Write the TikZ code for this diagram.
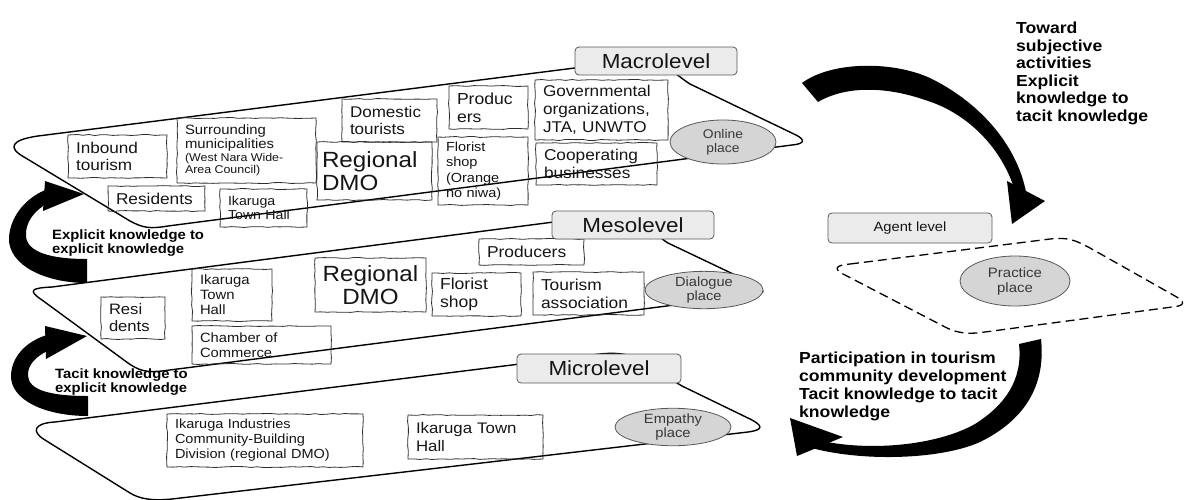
\documentclass[tikz,border=0pt]{standalone}
\usepackage{fontspec}
\setmainfont{Liberation Sans}[FakeStretch=1.1]
\usetikzlibrary{shapes.geometric,decorations.pathmorphing}
\definecolor{boxline}{HTML}{2E2E2E}
\definecolor{txt}{HTML}{151515}
\definecolor{lvlfill}{HTML}{EBEBEB}
\definecolor{elfill}{HTML}{D5D5D5}
\newcommand{\fsz}[2]{\fontsize{#1}{#2}\selectfont}
\tikzset{
  plane/.style={draw=black, line width=1.4pt, line join=round},
  skbox/.style={draw=boxline, line width=0.8pt, decorate,
    decoration={random steps,segment length=6pt,amplitude=0.5pt},
    inner xsep=8pt, inner ysep=0pt, align=left, text=txt},
  lvl/.style={draw=boxline!80, fill=lvlfill, rounded corners=4pt, line width=0.8pt,
    text=txt, inner sep=0pt, font=\fsz{20.4}{22}},
  place/.style={ellipse, draw=boxline!80, fill=elfill, line width=0.8pt, inner sep=0pt,
    align=center, text=txt!85},
  arrowfill/.style={fill=black},
  lbl/.style={anchor=north west, inner sep=0pt, align=left, text=black}
}
\begin{document}
\begin{tikzpicture}[x=1pt,y=-1pt]
\pgfmathsetseed{7}
\useasboundingbox (0,0) rectangle (1184,499);

% ---------- planes ----------
\draw[plane] (630,61) .. controls (665,57) and (668,70) .. (690,84) -- (796,135)
  .. controls (806,140) and (804,144) .. (792,145) -- (168,226)
  .. controls (150,229) and (143,228) .. (130,221) -- (24,157)
  .. controls (8,148) and (10,140) .. (38,136) -- cycle;
\draw[plane] (600,216) .. controls (640,211) and (650,232) .. (668,243) -- (752,283)
  .. controls (767,290) and (766,294) .. (752,295) -- (162,371)
  .. controls (146,373) and (138,370) .. (128,363) -- (42,300)
  .. controls (27,290) and (32,288) .. (52,287) -- cycle;
\draw[plane] (600,354) .. controls (645,349) and (660,374) .. (682,386) -- (750,419)
  .. controls (764,426) and (763,430) .. (748,432) -- (172,499)
  .. controls (152,501) and (140,499) .. (130,493) -- (45,440)
  .. controls (30,431) and (35,423) .. (55,422) -- cycle;
\draw[plane, line width=1.3pt, dash pattern=on 9pt off 5pt] (850,264) -- (1050,239)
  .. controls (1068,237) and (1075,240) .. (1090,248) -- (1175,296)
  .. controls (1186,302) and (1185,306) .. (1172,307) -- (985,332)
  .. controls (965,335) and (955,332) .. (945,327) -- (845,275)
  .. controls (832,269) and (836,265) .. (850,264) -- cycle;

% ---------- macrolevel boxes ----------
\node[skbox, minimum width=99pt, minimum height=43pt, text width=83pt, font=\fsz{15.6}{17}] (inb) at (117.5,156.5) {Inbound\\tourism};
\node[skbox, minimum width=139pt, minimum height=65pt, text width=123pt] (sur) at (246.5,150.5)
  {{\fsz{13.5}{14.5}Surrounding\\municipalities\par}{\fsz{11.3}{12.5}(West Nara Wide-\\Area Council)\par}};
\node[skbox, inner xsep=5pt, minimum width=115pt, minimum height=58pt, text width=105pt, font=\fsz{22}{23}] (dmoA) at (374.5,171) {Regional\\DMO};
\node[skbox, minimum width=97pt, minimum height=25pt, text width=81pt, font=\fsz{15.7}{17}] (resA) at (156.5,198.5) {Residents};
\node[skbox, minimum width=87pt, minimum height=38pt, text width=71pt, font=\fsz{12.9}{14}] (ithA) at (263.5,208) {Ikaruga\\Town Hall};
\node[skbox, minimum width=95pt, minimum height=43pt, text width=79pt, font=\fsz{15.5}{17}] (dom) at (389.5,120.5) {Domestic\\tourists};
\node[skbox, minimum width=79pt, minimum height=43pt, text width=63pt, font=\fsz{16}{18}] (prodA) at (488.5,107.5) {Produc\\ers};
\node[skbox, minimum width=90pt, minimum height=68pt, text width=74pt, font=\fsz{13.2}{15.3}] (floA) at (483,171) {Florist\\shop\\(Orange\\no niwa)};
\node[skbox, minimum width=133pt, minimum height=60pt, text width=117pt, font=\fsz{15.6}{18}] (gov) at (601.5,110) {Governmental\\organizations,\\JTA, UNWTO};
\node[skbox, minimum width=121pt, minimum height=42pt, text width=105pt, font=\fsz{15.7}{18}] (coop) at (596.5,164) {Cooperating\\businesses};
\node[place, minimum width=106pt, minimum height=44pt, font=\fsz{12.6}{14}] (online) at (723,142) {Online\\place};
\node[lvl, minimum width=162pt, minimum height=28pt] (macro) at (656,61) {Macrolevel};

% ---------- mesolevel boxes ----------
\node[skbox, minimum width=64pt, minimum height=42pt, text width=48pt, font=\fsz{15.1}{17}] (resB) at (133,318) {Resi\\dents};
\node[skbox, minimum width=80pt, minimum height=52pt, text width=64pt, font=\fsz{13.5}{15}] (ithB) at (232,295) {Ikaruga\\Town\\Hall};
\node[skbox, minimum width=139pt, minimum height=38pt, text width=123pt, font=\fsz{13.4}{14.5}] (coc) at (261.5,345) {Chamber of\\Commerce};
\node[skbox, inner xsep=5pt, align=center, minimum width=111pt, minimum height=54pt, text width=101pt, font=\fsz{22}{23}] (dmoB) at (370.5,285) {Regional\\DMO};
\node[skbox, minimum width=105pt, minimum height=26pt, text width=89pt, font=\fsz{15.8}{17}] (prodB) at (531.5,252) {Producers};
\node[skbox, minimum width=89pt, minimum height=43pt, text width=73pt, font=\fsz{16}{18}] (floB) at (476.5,294.5) {Florist\\shop};
\node[skbox, minimum width=111pt, minimum height=43pt, text width=95pt, font=\fsz{15.8}{18}] (tour) at (588.5,293.5) {Tourism\\association};
\node[place, minimum width=118pt, minimum height=28pt, font=\fsz{13.3}{14}] (dialogue) at (704,290) {Dialogue\\place};
\node[lvl, minimum width=162pt, minimum height=28pt] (meso) at (633,225) {Mesolevel};

% ---------- microlevel boxes ----------
\node[skbox, minimum width=196pt, minimum height=53pt, text width=180pt, font=\fsz{13.2}{15}] (iicb) at (265,440.5) {Ikaruga Industries\\Community-Building\\Division (regional DMO)};
\node[skbox, minimum width=135pt, minimum height=44pt, text width=119pt, font=\fsz{15.3}{18}] (ithC) at (475.5,437) {Ikaruga Town\\Hall};
\node[place, minimum width=116pt, minimum height=30pt, font=\fsz{13.4}{14}] (empathy) at (673,427) {Empathy\\place};
\node[lvl, minimum width=164pt, minimum height=29pt] (micro) at (599,368.5) {Microlevel};

% ---------- agent level ----------
\node[lvl, minimum width=164pt, minimum height=30pt, font=\fsz{13.4}{15}] (agent) at (910,228) {Agent level};
\node[place, minimum width=110pt, minimum height=50pt, font=\fsz{13.6}{15}] (practice) at (1015,281) {Practice\\place};

% ---------- arrows ----------
\fill[arrowfill] (802,83) .. controls (830,62) and (890,60) .. (930,78)
  .. controls (985,105) and (1018,150) .. (1026,192) -- (1014,188)
  .. controls (1000,145) and (965,112) .. (925,100)
  .. controls (885,86) and (845,86) .. (818,102) -- cycle;
\fill[arrowfill] (1007,181) -- (1045,201) -- (1012,224) -- cycle;

\fill[arrowfill] (1019,344) -- (1041,339) .. controls (1046,385) and (1025,420) .. (980,442)
  .. controls (940,460) and (860,462) .. (808,447) -- (822,441)
  .. controls (875,452) and (940,444) .. (975,424)
  .. controls (1005,405) and (1023,380) .. (1019,344) -- cycle;
\fill[arrowfill] (790,418) -- (797,456) -- (843,437) -- cycle;

\fill[arrowfill] (87,283) .. controls (45,283) and (8,265) .. (9,238)
  .. controls (10,215) and (28,196) .. (48,189) -- (48,203)
  .. controls (35,210) and (25,222) .. (26,236)
  .. controls (27,252) and (50,259) .. (87,259) -- cycle;
\fill[arrowfill] (84,194) -- (45,181) -- (43,211) -- cycle;

\fill[arrowfill] (88,416) .. controls (45,416) and (10,400) .. (11,375)
  .. controls (12,355) and (28,340) .. (50,334) -- (50,350)
  .. controls (37,355) and (27,365) .. (28,376)
  .. controls (29,390) and (50,396) .. (88,396) -- cycle;
\fill[arrowfill] (87,336) -- (45,326) -- (46,359) -- cycle;

% ---------- labels ----------
\node[lbl, font={\bfseries\fsz{13.5}{14}}] (ee) at (52,230) {Explicit knowledge to\\explicit knowledge};
\node[lbl, font={\bfseries\fsz{13.5}{14}}] (te) at (55,369) {Tacit knowledge to\\explicit knowledge};
\node[lbl, font={\bfseries\fsz{16}{17.5}}] (tw) at (1016,22) {Toward\\subjective\\activities\\Explicit\\knowledge to\\tacit knowledge};
\node[lbl, font={\bfseries\fsz{16}{18}}] (pt) at (799,352) {Participation in tourism\\community development\\Tacit knowledge to tacit\\knowledge};
\end{tikzpicture}
\end{document}
